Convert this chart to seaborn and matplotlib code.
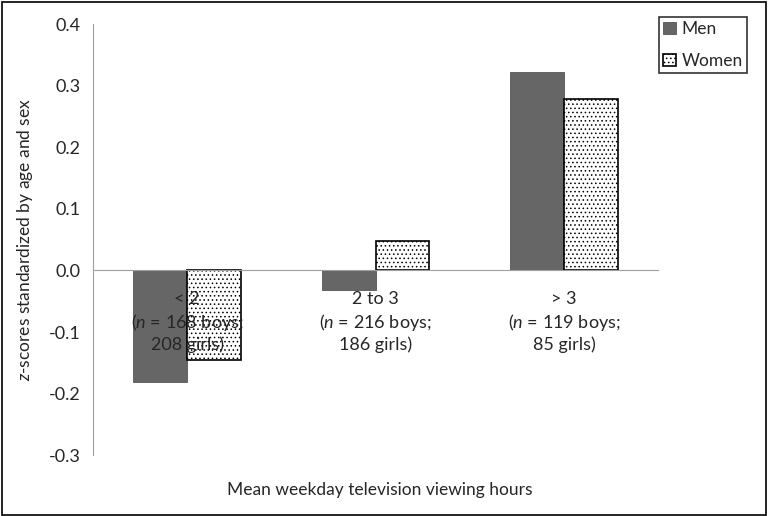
import pandas as pd
import numpy as np
import matplotlib
matplotlib.use("Agg")
import matplotlib.pyplot as plt
import seaborn as sns

# values
categories = ["< 2", "2 to 3", "> 3"]
boys_n = [168, 216, 119]
girls_n = [208, 186, 85]
men = [-0.182, -0.032, 0.323]
women = [-0.146, 0.048, 0.278]

data = pd.DataFrame({
    "hours": categories * 2,
    "sex": ["Men"] * 3 + ["Women"] * 3,
    "z": men + women,
})

sns.set_style("white")
plt.rcParams["font.family"] = ["Lato", "DejaVu Sans"]
plt.rcParams["mathtext.fontset"] = "custom"
plt.rcParams["mathtext.it"] = "Lato:italic"
plt.rcParams["mathtext.rm"] = "Lato"
plt.rcParams["hatch.linewidth"] = 0.6

fig = plt.figure(figsize=(7.68, 5.16), dpi=100)
ax = fig.add_axes([0.121, 0.118, 0.736, 0.835])

sns.barplot(data=data, x="hours", y="z", hue="sex", order=categories,
            hue_order=["Men", "Women"], palette=["#666666", "white"],
            width=0.57, gap=0, ax=ax, legend=False)

for bar in ax.containers[0]:
    bar.set_edgecolor("#555555")
    bar.set_linewidth(0.6)
for bar in ax.containers[1]:
    bar.set_edgecolor("black")
    bar.set_linewidth(1.2)
    bar.set_hatch("....")

ax.set_ylim(-0.3, 0.4)
ax.set_xlim(-0.5, 2.5)
ax.set_yticks(np.arange(-0.3, 0.41, 0.1))
ax.set_yticklabels([f"{v:.1f}" for v in np.arange(-0.3, 0.41, 0.1)], fontsize=13)

grey = "#a0a0a0"
for s in ["top", "right"]:
    ax.spines[s].set_visible(False)
ax.spines["left"].set_color(grey)
ax.spines["bottom"].set_color(grey)
ax.spines["bottom"].set_position(("data", 0))
ax.set_xticks([0.5, 1.5, 2.5])
ax.set_xticklabels([])
ax.tick_params(axis="both", which="both", length=5, color=grey, direction="out")
ax.tick_params(axis="y", pad=4)

for i, cat in enumerate(categories):
    ax.text(i, -0.033, f"{cat}\n($\\it{{n}}$ = {boys_n[i]} boys;\n{girls_n[i]} girls)",
            ha="center", va="top", fontsize=13, linespacing=1.3)

ax.set_xlabel("")
ax.set_ylabel("$\\it{z}$-scores standardized by age and sex", fontsize=12.5, labelpad=10)
fig.text(0.495, 0.04, "Mean weekday television viewing hours", ha="center", fontsize=12.5)

handles = [ax.containers[0][0], ax.containers[1][0]]
leg = fig.legend(handles, ["Men", "Women"], loc="upper right",
                 bbox_to_anchor=(0.973, 0.967), fontsize=12.5, frameon=True,
                 fancybox=False, edgecolor="black", handlelength=0.7,
                 handleheight=0.7, labelspacing=0.9, handletextpad=0.35,
                 borderpad=0.25, borderaxespad=0)
leg.get_frame().set_linewidth(1.2)

fig.patches.append(plt.Rectangle((0.002, 0.002), 0.996, 0.994, transform=fig.transFigure,
                                 fill=False, edgecolor="black", linewidth=1.2))

fig.savefig("out.png", dpi=100)
